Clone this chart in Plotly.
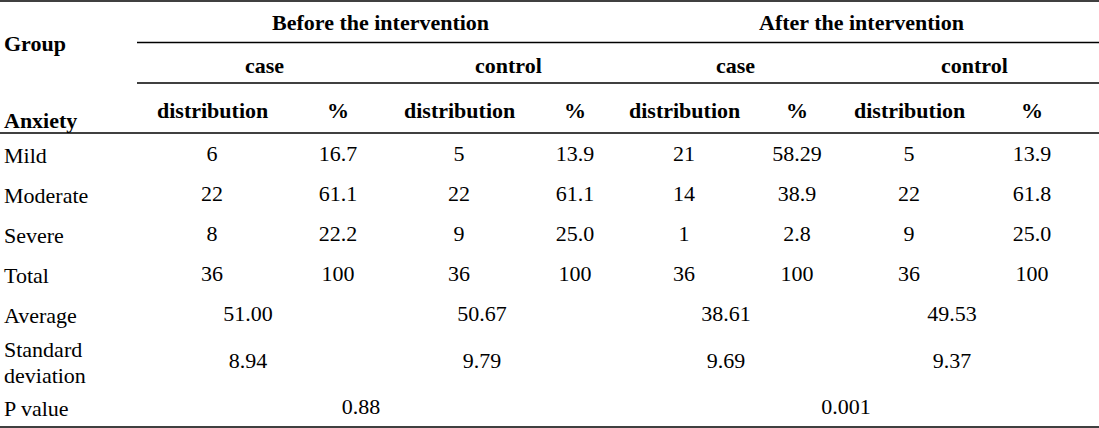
import plotly.graph_objects as go

# table content
periods = ["Before the intervention", "After the intervention"]
groups = ["case", "control", "case", "control"]
row_labels = ["Mild", "Moderate", "Severe", "Total"]

before_case_n = ["6", "22", "8", "36"]
before_case_pct = ["16.7", "61.1", "22.2", "100"]
before_control_n = ["5", "22", "9", "36"]
before_control_pct = ["13.9", "61.1", "25.0", "100"]
after_case_n = ["21", "14", "1", "36"]
after_case_pct = ["58.29", "38.9", "2.8", "100"]
after_control_n = ["5", "22", "9", "36"]
after_control_pct = ["13.9", "61.8", "25.0", "100"]

averages = ["51.00", "50.67", "38.61", "49.53"]
std_devs = ["8.94", "9.79", "9.69", "9.37"]
p_values = ["0.88", "0.001"]

# layout (pixel-like axis units)
W, H = 1099, 428
FONT = "Liberation Serif"
FS = 22
dist_x = [212, 459, 684, 909]
pct_x = [338, 575, 797, 1032]
group_x = [264, 508, 735, 974]
period_x = [380, 861]
row_y = [155, 195, 235, 275]
stat_x = [248, 482, 726, 952]
p_x = [361, 846]
avg_y, sd_y, p_y = 315, 362, 408

fig = go.Figure()

columns = [before_case_n, before_case_pct, before_control_n, before_control_pct,
           after_case_n, after_case_pct, after_control_n, after_control_pct]
col_x = [v for pair in zip(dist_x, pct_x) for v in pair]

for cx, vals in zip(col_x, columns):
    fig.add_trace(go.Scatter(
        x=[cx] * len(vals), y=row_y, text=vals, mode="text",
        textposition="middle center",
        textfont=dict(family=FONT, size=FS, color="black"),
        hoverinfo="skip"))

fig.add_trace(go.Scatter(
    x=stat_x, y=[avg_y] * 4, text=averages, mode="text",
    textfont=dict(family=FONT, size=FS, color="black"), hoverinfo="skip"))
fig.add_trace(go.Scatter(
    x=stat_x, y=[sd_y] * 4, text=std_devs, mode="text",
    textfont=dict(family=FONT, size=FS, color="black"), hoverinfo="skip"))
fig.add_trace(go.Scatter(
    x=p_x, y=[p_y] * 2, text=p_values, mode="text",
    textfont=dict(family=FONT, size=FS, color="black"), hoverinfo="skip"))

ann = []


def txt(x, y, s, bold=False, xanchor="center"):
    ann.append(dict(x=x, y=y, text=f"<b>{s}</b>" if bold else s,
                    xref="x", yref="y", showarrow=False,
                    xanchor=xanchor, yanchor="middle",
                    font=dict(family=FONT, size=FS, color="black")))


# header
txt(2, 43, "Group", bold=True, xanchor="left")
txt(2, 120, "Anxiety", bold=True, xanchor="left")
for px_, s in zip(period_x, periods):
    txt(px_, 22, s, bold=True)
for gx, s in zip(group_x, groups):
    txt(gx, 65, s, bold=True)
for dx, pc in zip(dist_x, pct_x):
    txt(dx, 110, "distribution", bold=True)
    txt(pc, 110, "%", bold=True)

# row labels
for ry, s in zip(row_y, row_labels):
    txt(2, ry, s, xanchor="left")
txt(2, avg_y, "Average", xanchor="left")
txt(2, 349, "Standard", xanchor="left")
txt(2, 375, "deviation", xanchor="left")
txt(2, p_y, "P value", xanchor="left")

# rules
rules = [(0, 1), (137, 42.5), (137, 83), (0, 133), (0, 427)]
shapes = [dict(type="line", xref="x", yref="y", x0=x0, x1=W, y0=y, y1=y,
               line=dict(color="black", width=1.5)) for x0, y in rules]

fig.update_layout(
    width=W, height=H,
    margin=dict(l=0, r=0, t=0, b=0),
    plot_bgcolor="white", paper_bgcolor="white",
    showlegend=False,
    annotations=ann, shapes=shapes,
    xaxis=dict(range=[0, W], visible=False, fixedrange=True),
    yaxis=dict(range=[H, 0], visible=False, fixedrange=True),
)

# drop the browser's default 8px body margin
fig.write_html("out.html", config=dict(displayModeBar=False),
               post_script="document.body.style.margin='0';")
